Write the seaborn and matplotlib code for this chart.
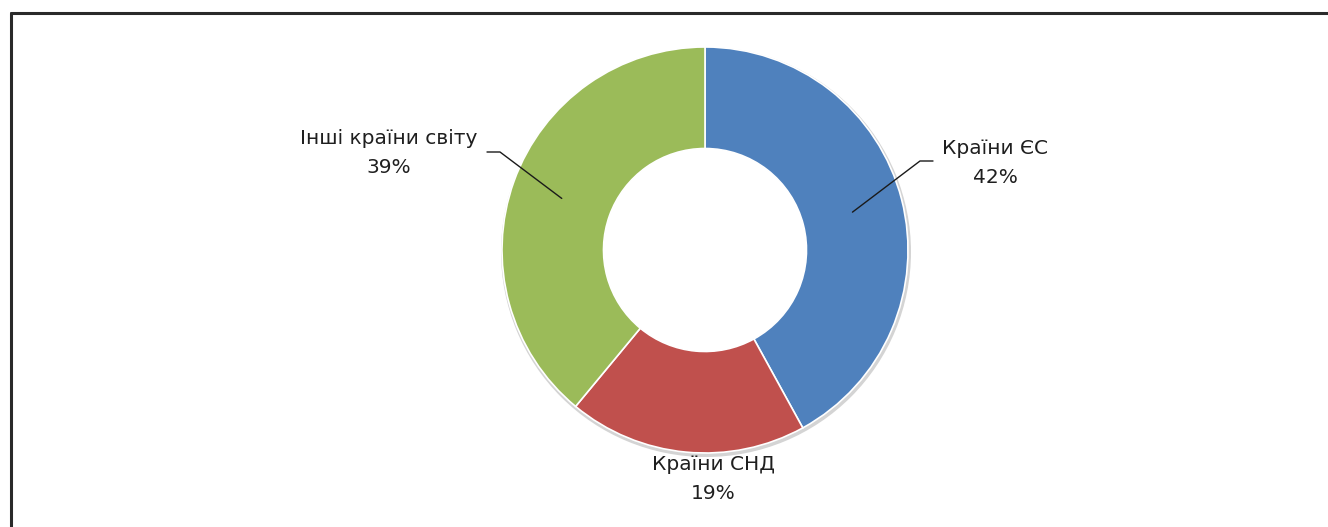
import numpy as np
import matplotlib
matplotlib.use("Agg")
import matplotlib.pyplot as plt
from matplotlib.lines import Line2D
import seaborn as sns

# data
regions = ["Країни ЄС", "Країни СНД", "Інші країни світу"]
shares = [42, 19, 39]
colors = ["#4F81BD", "#C0504D", "#9BBB59"]

sns.set_theme(style="white")
plt.rcParams["font.family"] = ["DejaVu Sans"]

fig = plt.figure(figsize=(13.28, 5.27), dpi=100)
ax = fig.add_axes([0, 0, 1, 1])

cx, cy, R = 705, 250, 203

# faint shadow along the outer rim
ax.pie([1], radius=R + 2, center=(cx + 1, cy + 2), colors=["#d4d4d4"],
       wedgeprops=dict(width=10, edgecolor="none"), frame=True)

# y axis is inverted below, so start at -90 and go counterclockwise in data space
wedges, _ = ax.pie(shares, radius=R, center=(cx, cy), colors=colors,
                   startangle=-90, counterclock=True,
                   wedgeprops=dict(width=R * 0.5, edgecolor="white", linewidth=1.2),
                   frame=True)
ax.set_xlim(0, 1328)
ax.set_ylim(527, 0)
ax.set_aspect("equal")
ax.axis("off")

txt = dict(fontsize=14.5, color="#1f1f1f", ha="center", va="center", linespacing=1.7)

# label positions and leader lines
label_pos = [(995, 163), (713, 479), (389, 153)]
elbow = [(920, 161), None, (500, 152)]
tail = [(933, 161), None, (487, 152)]
for w, lab, s, pos, el, tl in zip(wedges, regions, shares, label_pos, elbow, tail):
    ang = np.deg2rad((w.theta1 + w.theta2) / 2)
    ax.text(pos[0], pos[1], f"{lab}\n{s}%", **txt)
    if el is not None:
        r = 0.75 * R
        px, py = cx + r * np.cos(ang), cy + r * np.sin(ang)
        ax.plot([px, el[0], tl[0]], [py, el[1], tl[1]], color="#1a1a1a", lw=1)

# frame lines (left and top)
fig.add_artist(Line2D([11 / 1328, 11 / 1328], [0, 1 - 13 / 527], color="#2a2a2a", lw=2.2))
fig.add_artist(Line2D([11 / 1328, 1], [1 - 13 / 527, 1 - 13 / 527], color="#2a2a2a", lw=2.2))

fig.savefig("out.png", dpi=100, facecolor="white")
